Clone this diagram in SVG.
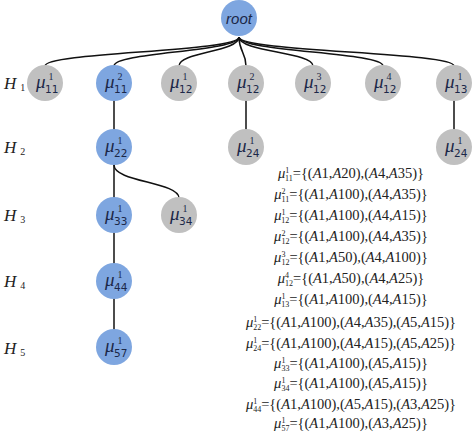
<svg xmlns="http://www.w3.org/2000/svg" width="474" height="434" viewBox="0 0 474 434">
<style>
.edge{fill:none;stroke:#111;stroke-width:1.5}
.blue{fill:#7ea6e0}
.gray{fill:#c0c0c0}
.mu{font-family:"Liberation Serif",serif;font-style:italic;font-size:19px;fill:#1c2848}
.sub{font-family:"DejaVu Sans",sans-serif;font-size:10.5px;fill:#1c2848}
.sup{font-family:"Liberation Serif",serif;font-size:10px;fill:#1c2848}
.h{font-family:"Liberation Serif",serif;font-style:italic;font-size:17px;fill:#222}
.hs{font-family:"Liberation Serif",serif;font-style:normal;font-size:10px;fill:#222}
.root{font-family:"Liberation Sans",sans-serif;font-style:italic;font-size:15px;fill:#1c2848}
.f{font-family:"Liberation Serif",serif;font-size:14.5px;fill:#222}
.fi{font-style:italic}
.fs{font-size:8px}
</style>
<rect width="474" height="434" fill="#fff"/>
<g id="connectors">
<path class="edge" d="M239,37 C239,52 45,52 45,66"/>
<path class="edge" d="M239,37 C239,52 114,52 114,66"/>
<path class="edge" d="M239,37 C239,52 179,52 179,66"/>
<path class="edge" d="M239,37 C239,52 246,52 246,66"/>
<path class="edge" d="M239,37 C239,52 313,52 313,66"/>
<path class="edge" d="M239,37 C239,52 383,52 383,66"/>
<path class="edge" d="M239,37 C239,52 454,52 454,66"/>
<line class="edge" x1="114" y1="83" x2="114" y2="347"/>
<line class="edge" x1="246" y1="83" x2="246" y2="147"/>
<line class="edge" x1="454" y1="83" x2="454" y2="147"/>
<path class="edge" d="M114,165 C114,182 179,182 179,198"/>
</g>
<g id="hlabels">
<text class="h" x="4" y="89">H<tspan class="hs" dx="4" dy="2">1</tspan></text>
<text class="h" x="4" y="153">H<tspan class="hs" dx="4" dy="2">2</tspan></text>
<text class="h" x="4" y="221">H<tspan class="hs" dx="4" dy="2">3</tspan></text>
<text class="h" x="4" y="287">H<tspan class="hs" dx="4" dy="2">4</tspan></text>
<text class="h" x="4" y="354">H<tspan class="hs" dx="4" dy="2">5</tspan></text>
</g>
<g id="root"><circle class="blue" cx="239" cy="18" r="18"/><text class="root" x="239" y="24" text-anchor="middle">root</text></g>
<g id="n_mu11_1"><circle class="gray" cx="45" cy="83" r="18"/><text class="mu" x="36" y="88">μ</text><text class="sup" x="51" y="80" text-anchor="middle">1</text><text class="sub" x="45" y="93">11</text></g>
<g id="n_mu11_2"><circle class="blue" cx="114" cy="83" r="18"/><text class="mu" x="105" y="88">μ</text><text class="sup" x="120" y="80" text-anchor="middle">2</text><text class="sub" x="114" y="93">11</text></g>
<g id="n_mu12_1"><circle class="gray" cx="179" cy="83" r="18"/><text class="mu" x="170" y="88">μ</text><text class="sup" x="185" y="80" text-anchor="middle">1</text><text class="sub" x="179" y="93">12</text></g>
<g id="n_mu12_2"><circle class="gray" cx="246" cy="83" r="18"/><text class="mu" x="237" y="88">μ</text><text class="sup" x="252" y="80" text-anchor="middle">2</text><text class="sub" x="246" y="93">12</text></g>
<g id="n_mu12_3"><circle class="gray" cx="313" cy="83" r="18"/><text class="mu" x="304" y="88">μ</text><text class="sup" x="319" y="80" text-anchor="middle">3</text><text class="sub" x="313" y="93">12</text></g>
<g id="n_mu12_4"><circle class="gray" cx="383" cy="83" r="18"/><text class="mu" x="374" y="88">μ</text><text class="sup" x="389" y="80" text-anchor="middle">4</text><text class="sub" x="383" y="93">12</text></g>
<g id="n_mu13_1"><circle class="gray" cx="454" cy="83" r="18"/><text class="mu" x="445" y="88">μ</text><text class="sup" x="460" y="80" text-anchor="middle">1</text><text class="sub" x="454" y="93">13</text></g>
<g id="n_mu22_1"><circle class="blue" cx="114" cy="147" r="18"/><text class="mu" x="105" y="152">μ</text><text class="sup" x="120" y="144" text-anchor="middle">1</text><text class="sub" x="114" y="157">22</text></g>
<g id="n_mu24_1a"><circle class="gray" cx="246" cy="147" r="18"/><text class="mu" x="237" y="152">μ</text><text class="sup" x="252" y="144" text-anchor="middle">1</text><text class="sub" x="246" y="157">24</text></g>
<g id="n_mu24_1b"><circle class="gray" cx="454" cy="147" r="18"/><text class="mu" x="445" y="152">μ</text><text class="sup" x="460" y="144" text-anchor="middle">1</text><text class="sub" x="454" y="157">24</text></g>
<g id="n_mu33_1"><circle class="blue" cx="114" cy="215" r="18"/><text class="mu" x="105" y="220">μ</text><text class="sup" x="120" y="212" text-anchor="middle">1</text><text class="sub" x="114" y="225">33</text></g>
<g id="n_mu34_1"><circle class="gray" cx="179" cy="215" r="18"/><text class="mu" x="170" y="220">μ</text><text class="sup" x="185" y="212" text-anchor="middle">1</text><text class="sub" x="179" y="225">34</text></g>
<g id="n_mu44_1"><circle class="blue" cx="114" cy="281" r="18"/><text class="mu" x="105" y="286">μ</text><text class="sup" x="120" y="278" text-anchor="middle">1</text><text class="sub" x="114" y="291">44</text></g>
<g id="n_mu57_1"><circle class="blue" cx="114" cy="347" r="18"/><text class="mu" x="105" y="352">μ</text><text class="sup" x="120" y="344" text-anchor="middle">1</text><text class="sub" x="114" y="357">57</text></g>
<g id="formulas">
<text class="f" x="351" y="178" text-anchor="middle"><tspan class="fi">μ</tspan><tspan class="fs" dy="-5">1</tspan><tspan class="fs" dx="-4" dy="8">11</tspan><tspan dy="-3">={(</tspan><tspan class="fi">A</tspan>1,<tspan class="fi">A</tspan>20),(<tspan class="fi">A</tspan>4,<tspan class="fi">A</tspan>35)}</text>
<text class="f" x="351" y="199" text-anchor="middle"><tspan class="fi">μ</tspan><tspan class="fs" dy="-5">2</tspan><tspan class="fs" dx="-4" dy="8">11</tspan><tspan dy="-3">={(</tspan><tspan class="fi">A</tspan>1,<tspan class="fi">A</tspan>100),(<tspan class="fi">A</tspan>4,<tspan class="fi">A</tspan>35)}</text>
<text class="f" x="351" y="220" text-anchor="middle"><tspan class="fi">μ</tspan><tspan class="fs" dy="-5">1</tspan><tspan class="fs" dx="-4" dy="8">12</tspan><tspan dy="-3">={(</tspan><tspan class="fi">A</tspan>1,<tspan class="fi">A</tspan>100),(<tspan class="fi">A</tspan>4,<tspan class="fi">A</tspan>15)}</text>
<text class="f" x="351" y="241" text-anchor="middle"><tspan class="fi">μ</tspan><tspan class="fs" dy="-5">2</tspan><tspan class="fs" dx="-4" dy="8">12</tspan><tspan dy="-3">={(</tspan><tspan class="fi">A</tspan>1,<tspan class="fi">A</tspan>100),(<tspan class="fi">A</tspan>4,<tspan class="fi">A</tspan>35)}</text>
<text class="f" x="351" y="262" text-anchor="middle"><tspan class="fi">μ</tspan><tspan class="fs" dy="-5">3</tspan><tspan class="fs" dx="-4" dy="8">12</tspan><tspan dy="-3">={(</tspan><tspan class="fi">A</tspan>1,<tspan class="fi">A</tspan>50),(<tspan class="fi">A</tspan>4,<tspan class="fi">A</tspan>100)}</text>
<text class="f" x="351" y="283" text-anchor="middle"><tspan class="fi">μ</tspan><tspan class="fs" dy="-5">4</tspan><tspan class="fs" dx="-4" dy="8">12</tspan><tspan dy="-3">={(</tspan><tspan class="fi">A</tspan>1,<tspan class="fi">A</tspan>50),(<tspan class="fi">A</tspan>4,<tspan class="fi">A</tspan>25)}</text>
<text class="f" x="351" y="304" text-anchor="middle"><tspan class="fi">μ</tspan><tspan class="fs" dy="-5">1</tspan><tspan class="fs" dx="-4" dy="8">13</tspan><tspan dy="-3">={(</tspan><tspan class="fi">A</tspan>1,<tspan class="fi">A</tspan>100),(<tspan class="fi">A</tspan>4,<tspan class="fi">A</tspan>15)}</text>
<text class="f" x="351" y="327" text-anchor="middle"><tspan class="fi">μ</tspan><tspan class="fs" dy="-5">1</tspan><tspan class="fs" dx="-4" dy="8">22</tspan><tspan dy="-3">={(</tspan><tspan class="fi">A</tspan>1,<tspan class="fi">A</tspan>100),(<tspan class="fi">A</tspan>4,<tspan class="fi">A</tspan>35),(<tspan class="fi">A</tspan>5,<tspan class="fi">A</tspan>15)}</text>
<text class="f" x="351" y="348" text-anchor="middle"><tspan class="fi">μ</tspan><tspan class="fs" dy="-5">1</tspan><tspan class="fs" dx="-4" dy="8">24</tspan><tspan dy="-3">={(</tspan><tspan class="fi">A</tspan>1,<tspan class="fi">A</tspan>100),(<tspan class="fi">A</tspan>4,<tspan class="fi">A</tspan>15),(<tspan class="fi">A</tspan>5,<tspan class="fi">A</tspan>25)}</text>
<text class="f" x="351" y="368" text-anchor="middle"><tspan class="fi">μ</tspan><tspan class="fs" dy="-5">1</tspan><tspan class="fs" dx="-4" dy="8">33</tspan><tspan dy="-3">={(</tspan><tspan class="fi">A</tspan>1,<tspan class="fi">A</tspan>100),(<tspan class="fi">A</tspan>5,<tspan class="fi">A</tspan>15)}</text>
<text class="f" x="351" y="388" text-anchor="middle"><tspan class="fi">μ</tspan><tspan class="fs" dy="-5">1</tspan><tspan class="fs" dx="-4" dy="8">34</tspan><tspan dy="-3">={(</tspan><tspan class="fi">A</tspan>1,<tspan class="fi">A</tspan>100),(<tspan class="fi">A</tspan>5,<tspan class="fi">A</tspan>15)}</text>
<text class="f" x="351" y="409" text-anchor="middle"><tspan class="fi">μ</tspan><tspan class="fs" dy="-5">1</tspan><tspan class="fs" dx="-4" dy="8">44</tspan><tspan dy="-3">={(</tspan><tspan class="fi">A</tspan>1,<tspan class="fi">A</tspan>100),(<tspan class="fi">A</tspan>5,<tspan class="fi">A</tspan>15),(<tspan class="fi">A</tspan>3,<tspan class="fi">A</tspan>25)}</text>
<text class="f" x="351" y="428" text-anchor="middle"><tspan class="fi">μ</tspan><tspan class="fs" dy="-5">1</tspan><tspan class="fs" dx="-4" dy="8">57</tspan><tspan dy="-3">={(</tspan><tspan class="fi">A</tspan>1,<tspan class="fi">A</tspan>100),(<tspan class="fi">A</tspan>3,<tspan class="fi">A</tspan>25)}</text>
</g>
</svg>
